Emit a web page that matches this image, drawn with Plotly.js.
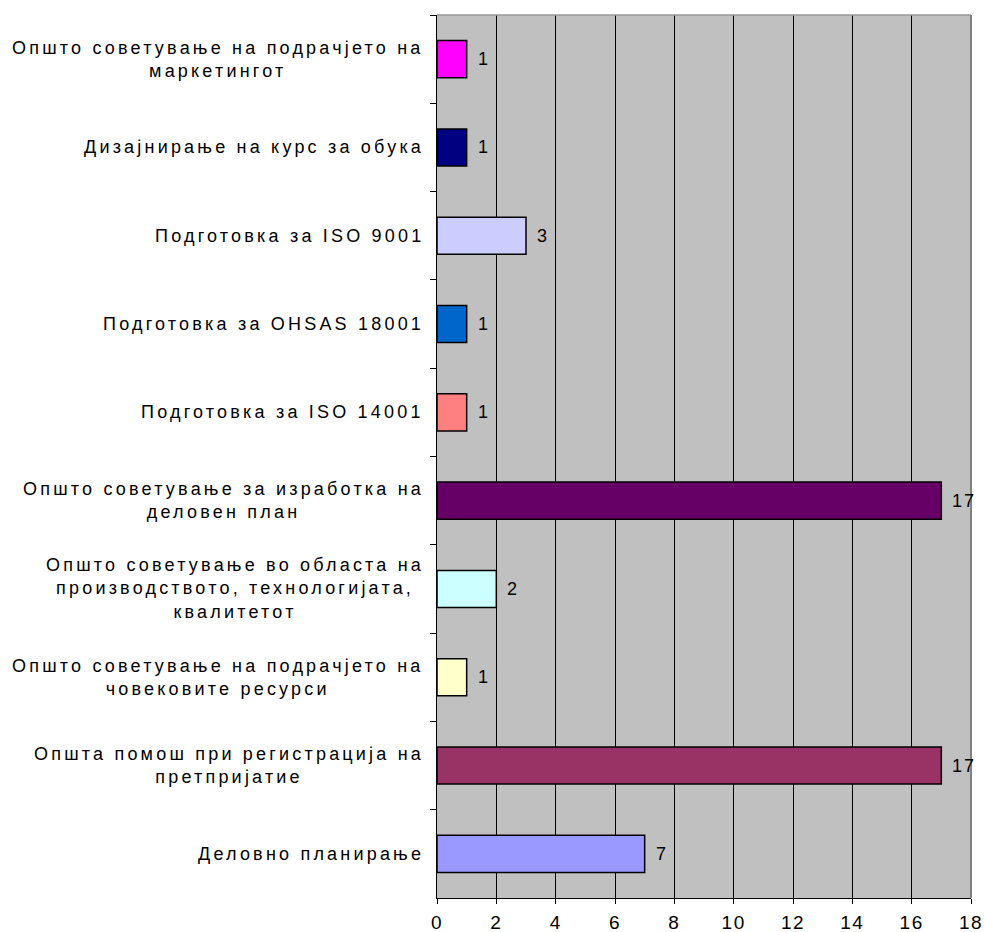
<!DOCTYPE html>
<html>
<head>
<meta charset="utf-8">
<script src="https://cdn.plot.ly/plotly-3.0.1.min.js"></script>
<style>html,body{margin:0;padding:0;background:#fff}#chart{width:985px;height:932px}
text.annotation-text{letter-spacing:3.2px}
#chart g.xtick text{letter-spacing:1.5px}
</style>
</head>
<body>
<div id="chart"></div>
<script>
const categories = [
  "Општо советување на подрачјето на<br>маркетингот",
  "Дизајнирање на курс за обука",
  "Подготовка за ISO 9001",
  "Подготовка за OHSAS 18001",
  "Подготовка за ISO 14001",
  "Општо советување за изработка на<br>деловен план",
  "Општо советување во областа на<br>производството, технологијата,<br>квалитетот",
  "Општо советување на подрачјето на<br>човековите ресурси",
  "Општа помош при регистрација на<br>претпријатие",
  "Деловно планирање"
];
const values = [1, 1, 3, 1, 1, 17, 2, 1, 17, 7];
const barColors = ["#FF00FF", "#000080", "#CCCCFF", "#0066CC", "#FF8080", "#660066", "#CCFFFF", "#FFFFCC", "#993366", "#9999FF"];
const xTicks = [0, 2, 4, 6, 8, 10, 12, 14, 16, 18];

const ids = categories.map((c, i) => "c" + i);
const font = {family: "Liberation Sans, Arial, sans-serif", size: 18, color: "#000"};
const tickFont = {family: "Liberation Sans, Arial, sans-serif", size: 19, color: "#000"};

// value labels (annotations after the category labels) use a narrower spacing
const n = categories.length;
const css = values.map((v, i) => '#chart g.annotation[data-index="' + (n + i) + '"] text').join(",") +
  "{letter-spacing:2px}";
const st = document.createElement("style");
st.textContent = css;
document.head.appendChild(st);

const annotations = [];
categories.forEach((c, i) => {
  annotations.push({
    xref: "paper", yref: "y", x: 0, y: ids[i], text: c,
    xanchor: "right", yanchor: "middle", align: "center",
    xshift: -11, showarrow: false, font: font
  });
});
values.forEach((v, i) => {
  annotations.push({
    xref: "x", yref: "y", x: v, y: ids[i], text: String(v),
    xanchor: "left", yanchor: "middle", align: "left", xshift: 9, showarrow: false, font: font
  });
});

const data = [{
  type: "bar", orientation: "h",
  x: values, y: ids,
  marker: {color: barColors, line: {color: "#000", width: 1.5}},
  hoverinfo: "skip"
}];

const layout = {
  width: 985, height: 932,
  margin: {l: 437, r: 14, t: 15, b: 34},
  paper_bgcolor: "#fff",
  plot_bgcolor: "#C0C0C0",
  bargap: 0.58,
  showlegend: false,
  font: font,
  xaxis: {
    range: [0, 18], tickvals: xTicks, ticktext: xTicks.map(String),
    showgrid: true, gridcolor: "#000", gridwidth: 1,
    zeroline: false, showline: true, linecolor: "#000", linewidth: 1,
    ticks: "outside", ticklen: 5, tickcolor: "#000", ticklabelstandoff: 2,
    tickfont: tickFont, fixedrange: true
  },
  yaxis: {
    type: "category", autorange: "reversed",
    showticklabels: false, showgrid: false, zeroline: false,
    showline: true, linecolor: "#000", linewidth: 1,
    ticks: "outside", ticklen: 6, tickcolor: "#000", tickson: "boundaries",
    fixedrange: true
  },
  annotations: annotations,
  shapes: [
    {type: "line", xref: "paper", yref: "paper", x0: 0, x1: 1, y0: 1, y1: 1, line: {color: "#999999", width: 1.5}, layer: "above"},
    {type: "line", xref: "paper", yref: "paper", x0: 1, x1: 1, y0: 0, y1: 1, line: {color: "#808080", width: 2}, layer: "above"}
  ]
};

Plotly.newPlot("chart", data, layout, {displayModeBar: false, staticPlot: true});
</script>
</body>
</html>
